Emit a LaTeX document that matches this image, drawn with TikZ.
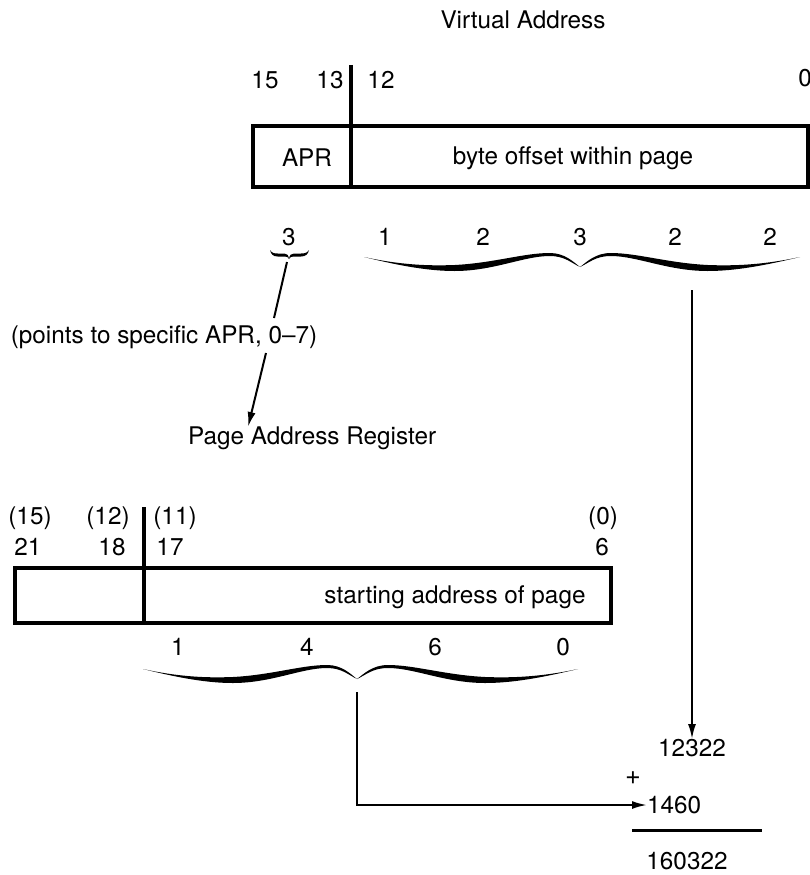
\documentclass[tikz,border=0pt]{standalone}
\usepackage{fontspec}
\setmainfont{TeX Gyre Heros}
\usetikzlibrary{arrows.meta}
\tikzset{
  lbl/.style={inner sep=0pt, font=\fontsize{24.3}{28}\selectfont},
  boxline/.style={line width=3.2pt},
  divline/.style={line width=3.4pt},
  conn/.style={line width=2pt},
  arr/.style={conn, -{Latex[length=15pt,width=8pt]}},
}
\newcommand{\halfshape}{(0,0) .. controls (0.17,8) and (0.3,9) .. (0.42,8)
  .. controls (0.6,6) and (0.74,-4) .. (0.86,-4)
  .. controls (0.93,-4) and (0.97,5) .. (1,10)
  .. controls (0.96,6) and (0.93,-1) .. (0.86,-1)
  .. controls (0.74,-1) and (0.6,14) .. (0.42,14)
  .. controls (0.3,14) and (0.17,9) .. (0,0) -- cycle}
\newcommand{\smallhalf}{(0,0) .. controls (0.1,3) and (0.2,3.5) .. (0.4,3.5)
  -- (0.75,3.5) .. controls (0.9,3.5) and (0.97,5) .. (1,9)
  .. controls (0.95,7) and (0.9,6.5) .. (0.75,6.5)
  -- (0.4,6.5) .. controls (0.15,6.5) and (0.05,4) .. (0,0) -- cycle}
% #1 left x, #2 tip x, #3 right x, #4 top y, #5 shape
\newcommand{\mybrace}[5]{%
  \begin{scope}[shift={(#1,#4)}, xscale={#2-#1}]
    \fill #5;
  \end{scope}
  \begin{scope}[shift={(#3,#4)}, xscale={#2-#3}]
    \fill #5;
  \end{scope}}
\begin{document}
\begin{tikzpicture}[x=1pt,y=-1pt]
\useasboundingbox (0,0) rectangle (810,875);

% ---------- Virtual address ----------
\node[lbl] (va) at (523,20) {Virtual Address};
\node[lbl] (v15) at (265,80) {15};
\node[lbl] (v13) at (330,80) {13};
\node[lbl] (v12) at (381,80) {12};
\node[lbl] (v0) at (805,78) {0};

\draw[boxline] (253,126) rectangle (808,187);
\draw[divline] (351,65) -- (351,187);
\node[lbl] (apr) at (307,158) {APR};
\node[lbl] (off) at (573,158) {byte offset within page};

\node[lbl] (d3) at (289,237) {3};
\node[lbl] (o1) at (385,237) {1};
\node[lbl] (o2) at (483,237) {2};
\node[lbl] (o3) at (580,237) {3};
\node[lbl] (o4) at (675,237) {2};
\node[lbl] (o5) at (770,237) {2};

\mybrace{270}{289}{309}{250}{\smallhalf}
\mybrace{364}{580}{800}{257}{\halfshape}

% ---------- APR selection ----------
\coordinate (sbtip) at (287,262);
\coordinate (a1) at (274,318);
\coordinate (a2) at (266,353);
\node[lbl] (pts) at (164,337) {(points to specific APR, 0--7)};
\node[lbl, anchor=west] (par) at (188,438) {Page Address Register};
\coordinate (a3) at (248,427);
\draw[conn] (sbtip) -- (a1);
\draw[arr] (a2) -- (a3);

% ---------- offset arrow ----------
\coordinate (vtop) at (692,290);
\node[lbl] (n1) at (692,748) {12322};
\draw[arr] (vtop) -- (n1.north);

% ---------- Page address register ----------
\node[lbl] (p15) at (30,518) {(15)};
\node[lbl] (p12) at (108,518) {(12)};
\node[lbl] (p11) at (175,518) {(11)};
\node[lbl] (p0) at (603,518) {(0)};
\node[lbl] (q21) at (28,547) {21};
\node[lbl] (q18) at (112,547) {18};
\node[lbl] (q17) at (170,547) {17};
\node[lbl] (q6) at (602,547) {6};

\draw[boxline] (15,568) rectangle (611,623);
\draw[divline] (144,507) -- (144,623);
\node[lbl] (sa) at (455,597) {starting address of page};

\node[lbl] (s1) at (178,647) {1};
\node[lbl] (s4) at (307,647) {4};
\node[lbl] (s6) at (435,647) {6};
\node[lbl] (s0) at (563,647) {0};

\mybrace{143}{357}{578}{669}{\halfshape}

% ---------- sum ----------
\coordinate (btip) at (357,692);
\node[lbl, font=\fontsize{27}{30}\selectfont] (plus) at (633,778) {+};
\node[lbl, anchor=west] (n2) at (647,805) {1460};
\draw[arr] (btip) |- (n2.west);
\draw[line width=3pt] (632,830) -- (762,830);
\node[lbl] (n3) at (687,861) {160322};
\end{tikzpicture}
\end{document}
